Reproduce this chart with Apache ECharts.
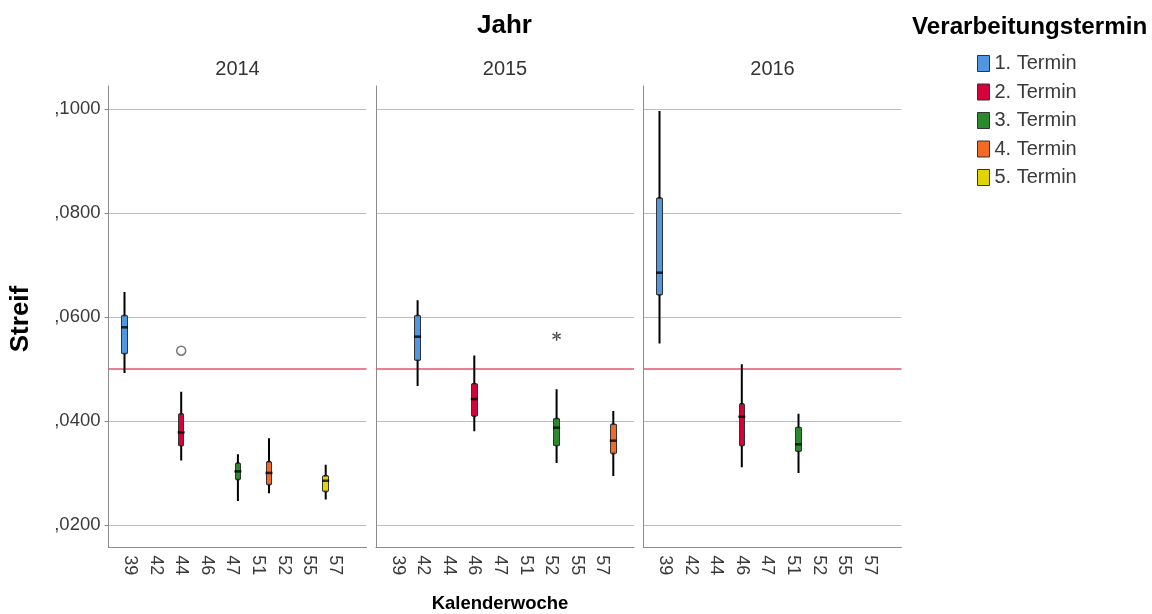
<!DOCTYPE html>
<html>
<head>
<meta charset="utf-8">
<script src="https://cdn.jsdelivr.net/npm/echarts@6/dist/echarts.min.js"></script>
<style>
  html, body { margin: 0; padding: 0; background: #fff; }
  #chart { width: 1152px; height: 614px; }
</style>
</head>
<body>
<div id="chart"></div>
<script>
// ---------------- data ----------------
const years = ['2014', '2015', '2016'];
const weeks = ['39', '42', '44', '46', '47', '51', '52', '55', '57'];
const termine = ['1. Termin', '2. Termin', '3. Termin', '4. Termin', '5. Termin'];
// [Kalenderwoche, Termin (1-5), min, Q1, median, Q3, max]
const boxes2014 = [
  ['39', 1, 0.0494, 0.0530, 0.0580, 0.0602, 0.0646],
  ['44', 2, 0.0326, 0.0353, 0.0378, 0.0413, 0.0454],
  ['47', 3, 0.0248, 0.0288, 0.0303, 0.0318, 0.0334],
  ['51', 4, 0.0263, 0.0278, 0.0300, 0.0321, 0.0365],
  ['55', 5, 0.0251, 0.0265, 0.0285, 0.0294, 0.0314]
];
const boxes2015 = [
  ['42', 1, 0.0469, 0.0517, 0.0562, 0.0602, 0.0630],
  ['46', 2, 0.0382, 0.0410, 0.0442, 0.0471, 0.0524],
  ['52', 3, 0.0321, 0.0353, 0.0387, 0.0404, 0.0459],
  ['57', 4, 0.0296, 0.0338, 0.0362, 0.0393, 0.0417]
];
const boxes2016 = [
  ['39', 1, 0.0551, 0.0643, 0.0685, 0.0828, 0.0994],
  ['46', 2, 0.0313, 0.0353, 0.0408, 0.0432, 0.0507],
  ['51', 3, 0.0302, 0.0342, 0.0355, 0.0387, 0.0412]
];
// outliers (circle) and extremes (star): [Kalenderwoche, Termin, value]
const outliers2014 = [['44', 2, 0.0535]];
const outliers2015 = [];
const outliers2016 = [];
const extremes2014 = [];
const extremes2015 = [['52', 3, 0.0563]];
const extremes2016 = [];
const referenceValue = 0.05;
const yMin = 0.0157;
const yMax = 0.1044;

// ---------------- styling / layout ----------------
const FONT = '"Liberation Sans", Arial, sans-serif';
const fills = ['#5096e2', '#d6003b', '#2b8a2e', '#f26a26', '#e3d400'];
const axisGray = '#8c8c8c';
const gridGray = '#bdbdbd';
const panelLeft = [108.5, 376, 643.5];
const panelWidth = 258;
const gridTop = 86;
const gridHeight = 461.3;
const innerInset = 14.2;
const innerWidth = 230.4;
const clusterStep = 5.5;

const boxSets = [boxes2014, boxes2015, boxes2016];
const outlierSets = [outliers2014, outliers2015, outliers2016];
const extremeSets = [extremes2014, extremes2015, extremes2016];

const starPath = 'path://M4.2,0L5.8,0L5.8,10L4.2,10Z M8.93,1.81L9.73,3.19L1.07,8.19L0.27,6.81Z M1.07,1.81L0.27,3.19L8.93,8.19L9.73,6.81Z';

const grids = [], xAxes = [], yAxes = [], series = [];
const empty5 = ['-', '-', '-', '-', '-'];
const empty4 = ['-', '-', '-', '-'];

years.forEach(function (yr, p) {
  const L = panelLeft[p];
  const fg = grids.length;
  grids.push({ left: L, top: gridTop, width: panelWidth, height: gridHeight });
  xAxes.push({
    gridIndex: fg, type: 'value', min: 0, max: 1,
    axisLine: { show: true, lineStyle: { color: axisGray, width: 1 } },
    axisTick: { show: false }, axisLabel: { show: false }, splitLine: { show: false }
  });
  yAxes.push({
    gridIndex: fg, type: 'value', min: yMin, max: yMax,
    minInterval: 0.02, maxInterval: 0.02,
    axisLine: { show: true, lineStyle: { color: axisGray, width: 1 } },
    axisTick: { show: p === 0, length: 4, lineStyle: { color: axisGray } },
    axisLabel: {
      show: p === 0, showMinLabel: false, showMaxLabel: false,
      fontSize: 18.5, color: '#3a3a3a', margin: 8, fontFamily: FONT,
      formatter: function (v) { return v.toFixed(4).replace(/^0\./, ','); }
    },
    splitLine: { show: true, showMinLine: false, showMaxLine: false, lineStyle: { color: gridGray, width: 1 } }
  });
  series.push({
    type: 'line', xAxisIndex: fg, yAxisIndex: fg, data: [], silent: true,
    markLine: {
      silent: true, symbol: 'none', z: 1, animation: false,
      label: { show: false },
      lineStyle: { color: '#e8536f', width: 1.5, type: 'solid' },
      data: [{ yAxis: referenceValue }]
    }
  });

  for (let t = 1; t <= 5; t++) {
    const g = grids.length;
    grids.push({ left: L + innerInset + (t - 3) * clusterStep, top: gridTop, width: innerWidth, height: gridHeight });
    xAxes.push({
      gridIndex: g, type: 'category', data: weeks, boundaryGap: true,
      axisLine: { show: false }, axisTick: { show: false }, splitLine: { show: false },
      axisLabel: { show: t === 2, rotate: -90, interval: 0, fontSize: 18, color: '#3a3a3a', margin: 8, fontFamily: FONT }
    });
    yAxes.push({ gridIndex: g, type: 'value', min: yMin, max: yMax, show: false, splitLine: { show: false } });

    const rows = boxSets[p].filter(function (r) { return r[1] === t; });
    const name = termine[t - 1];
    if (rows.length) {
      const find = function (w) { return rows.find(function (r) { return r[0] === w; }); };
      series.push({
        name: name, type: 'boxplot', xAxisIndex: g, yAxisIndex: g, z: 3,
        boxWidth: [2, 2], silent: true,
        itemStyle: { color: '#000', borderColor: '#000', borderWidth: 2 },
        data: weeks.map(function (w) { const r = find(w); return r ? [r[2], r[3], r[4], r[5], r[6]] : empty5.slice(); })
      });
      series.push({
        name: name, type: 'candlestick', xAxisIndex: g, yAxisIndex: g, z: 4,
        barWidth: 6, silent: true,
        itemStyle: { color: fills[t - 1], color0: fills[t - 1], borderColor: '#333', borderColor0: '#333', borderWidth: 1 },
        data: weeks.map(function (w) { const r = find(w); return r ? [r[3], r[5], r[3], r[5]] : empty4.slice(); })
      });
      series.push({
        name: name, type: 'scatter', xAxisIndex: g, yAxisIndex: g, z: 5, silent: true,
        symbol: 'rect', symbolSize: [7, 2.5],
        itemStyle: { color: '#000' },
        data: rows.map(function (r) { return [r[0], r[4]]; })
      });
    }
    const outs = outlierSets[p].filter(function (r) { return r[1] === t; });
    if (outs.length) {
      series.push({
        name: name, type: 'scatter', xAxisIndex: g, yAxisIndex: g, z: 6, silent: true,
        symbol: 'circle', symbolSize: 9,
        itemStyle: { color: '#fff', borderColor: '#555', borderWidth: 1.5 },
        data: outs.map(function (r) { return [r[0], r[2]]; })
      });
    }
    const ext = extremeSets[p].filter(function (r) { return r[1] === t; });
    if (ext.length) {
      series.push({
        name: name, type: 'scatter', xAxisIndex: g, yAxisIndex: g, z: 6, silent: true,
        symbol: starPath, symbolSize: 9,
        itemStyle: { color: '#222' },
        data: ext.map(function (r) { return [r[0], r[2]]; })
      });
    }
  }
});

const graphics = [
  { type: 'text', x: 504.5, y: 25.5, style: { text: 'Jahr', fontSize: 26, fontWeight: 'bold', fontFamily: FONT, fill: '#000', align: 'center', verticalAlign: 'middle' } },
  { type: 'text', x: 21, y: 319, rotation: Math.PI / 2, style: { text: 'Streif', fontSize: 26, fontWeight: 'bold', fontFamily: FONT, fill: '#000', align: 'center', verticalAlign: 'middle' } },
  { type: 'text', x: 500, y: 603.5, style: { text: 'Kalenderwoche', fontSize: 18.5, fontWeight: 'bold', fontFamily: FONT, fill: '#000', align: 'center', verticalAlign: 'middle' } },
  { type: 'text', x: 912, y: 27, style: { text: 'Verarbeitungstermin', fontSize: 24.2, fontWeight: 'bold', fontFamily: FONT, fill: '#000', align: 'left', verticalAlign: 'middle' } }
];
years.forEach(function (yr, p) {
  graphics.push({ type: 'text', x: panelLeft[p] + panelWidth / 2, y: 69.5, style: { text: yr, fontSize: 20, fontFamily: FONT, fill: '#333', align: 'center', verticalAlign: 'middle' } });
});

const chart = echarts.init(document.getElementById('chart'), null, { renderer: 'canvas' });
chart.setOption({
  animation: false,
  backgroundColor: '#fff',
  grid: grids,
  xAxis: xAxes,
  yAxis: yAxes,
  legend: {
    orient: 'vertical', left: 977, top: 53.5, padding: 0,
    itemWidth: 12, itemHeight: 16, itemGap: 8.5, selectedMode: false,
    icon: 'rect',
    textStyle: { fontSize: 20, color: '#3a3a3a', fontFamily: FONT, lineHeight: 16 },
    data: termine.map(function (n, i) {
      return { name: n, icon: 'rect', itemStyle: { color: fills[i], borderColor: '#333', borderWidth: 1 } };
    })
  },
  graphic: graphics,
  series: series
});
</script>
</body>
</html>
